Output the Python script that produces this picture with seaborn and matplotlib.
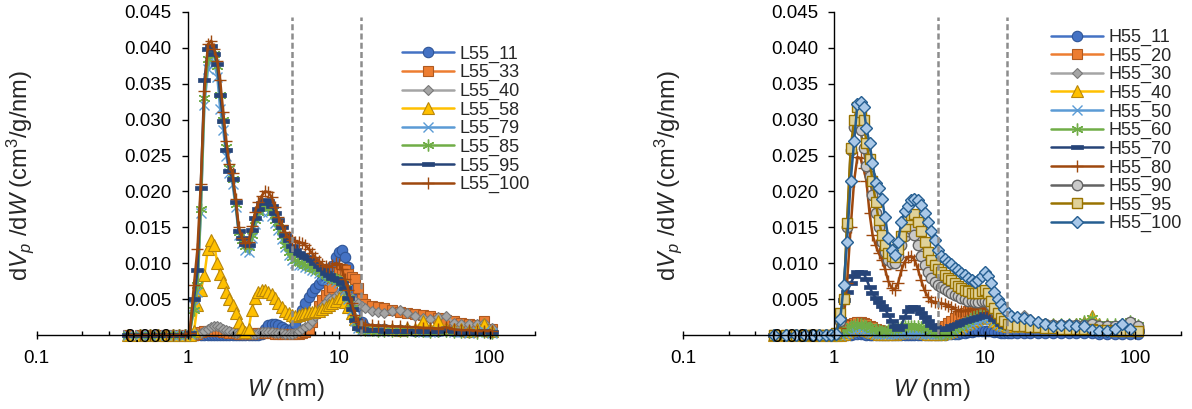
import numpy as np
import matplotlib
matplotlib.use("Agg")
import matplotlib.pyplot as plt
from matplotlib.ticker import FixedLocator, FuncFormatter, LogLocator, NullFormatter
import seaborn as sns

# ---------------- data ----------------
W = [0.40, 0.48, 0.56, 0.64, 0.72, 0.80, 0.88, 0.96,
     1.03, 1.10, 1.16, 1.22, 1.29, 1.36, 1.43, 1.50, 1.57, 1.64, 1.72, 1.80, 1.89, 1.98,
     2.08, 2.18, 2.29, 2.41, 2.53, 2.66, 2.80, 2.94, 3.09, 3.25, 3.42, 3.60, 3.79, 3.99, 4.20, 4.42, 4.65, 4.89,
     5.15, 5.42, 5.71, 6.01, 6.33, 6.66, 7.01, 7.38, 7.77, 8.18, 8.61, 9.06, 9.54,
     10.0, 10.5, 11.0, 11.6, 12.2, 12.8, 13.5, 14.2, 15.0,
     16.5, 18.2, 20.0, 22.5, 25.3, 28.5, 32.0, 36.0, 40.5, 45.5, 51.2, 57.6, 64.8, 72.9, 82.0, 92.2, 104.0]

L55_11 = [0, 0, 0, 0, 0, 0, 0, 0,
          0, 0, 0, 0, 0, 0, 0, 0, 0, 0, 0, 0, 0, 0,
          0, 0, 0, 0, 0, 0, 0, 0, 0.0002, 0.0008, 0.0014, 0.0016, 0.0016, 0.0014, 0.0011, 0.0008, 0.0007, 0.0009,
          0.0016, 0.0025, 0.0035, 0.0045, 0.0053, 0.0060, 0.0066, 0.0071, 0.0076, 0.0081, 0.0088, 0.0096, 0.0108,
          0.0116, 0.0119, 0.0108, 0.0095, 0.0081, 0.0064, 0.0040, 0.0018, 0.0011,
          0.0009, 0.0008, 0.0008, 0.0007, 0.0007, 0.0007, 0.0006, 0.0006, 0.0006, 0.0006, 0.0007, 0.0005, 0.0005, 0.0004, 0.0005, 0.0006, 0.0004]
L55_33 = [0, 0, 0, 0, 0, 0, 0, 0,
          0, 0, 0.0002, 0.0004, 0.0005, 0.0006, 0.0006, 0.0006, 0.0005, 0.0005, 0.0004, 0.0004, 0.0003, 0.0003,
          0.0003, 0.0002, 0.0002, 0.0002, 0.0002, 0.0002, 0.0003, 0.0003, 0.0003, 0.0003, 0.0003, 0.0003, 0.0002, 0.0002, 0.0002, 0.0002, 0.0002, 0.0002,
          0.0002, 0.0002, 0.0003, 0.0004, 0.0008, 0.0018, 0.0030, 0.0040, 0.0049, 0.0056, 0.0062, 0.0067, 0.0078,
          0.0088, 0.0092, 0.0090, 0.0085, 0.0081, 0.0078, 0.0065, 0.0050, 0.0043,
          0.0041, 0.0039, 0.0037, 0.0035, 0.0032, 0.0030, 0.0029, 0.0028, 0.0026, 0.0023, 0.0021, 0.0019, 0.0017, 0.0015, 0.0014, 0.0020, 0.0009]
L55_40 = [0, 0, 0, 0, 0, 0, 0, 0,
          0, 0.0001, 0.0002, 0.0003, 0.0006, 0.0009, 0.0011, 0.0012, 0.0012, 0.0011, 0.0009, 0.0007, 0.0005, 0.0004,
          0.0003, 0.0003, 0.0002, 0.0002, 0.0002, 0.0002, 0.0002, 0.0003, 0.0004, 0.0004, 0.0004, 0.0004, 0.0003, 0.0003, 0.0003, 0.0002, 0.0002, 0.0002,
          0.0003, 0.0005, 0.0008, 0.0011, 0.0014, 0.0020, 0.0027, 0.0034, 0.0040, 0.0046, 0.0051, 0.0050, 0.0054,
          0.0058, 0.0060, 0.0059, 0.0056, 0.0052, 0.0047, 0.0044, 0.0040, 0.0037,
          0.0034, 0.0032, 0.0031, 0.0033, 0.0035, 0.0030, 0.0026, 0.0023, 0.0022, 0.0025, 0.0027, 0.0017, 0.0016, 0.0015, 0.0015, 0.0017, 0.0010]
L55_58 = [0, 0, 0, 0, 0, 0, 0, 0,
          0, 0.0005, 0.0042, 0.0062, 0.0084, 0.0120, 0.0133, 0.0125, 0.0100, 0.0085, 0.0074, 0.0060, 0.0050, 0.0042,
          0.0030, 0.0018, 0.0010, 0.0004, 0.0008, 0.0035, 0.0052, 0.0060, 0.0062, 0.0062, 0.0060, 0.0057, 0.0051, 0.0045, 0.0039, 0.0034, 0.0030, 0.0028,
          0.0027, 0.0028, 0.0029, 0.0031, 0.0032, 0.0032, 0.0033, 0.0034, 0.0036, 0.0039, 0.0042, 0.0045, 0.0048,
          0.0051, 0.0052, 0.0046, 0.0039, 0.0030, 0.0022, 0.0015, 0.0012, 0.0010,
          0.0009, 0.0008, 0.0008, 0.0009, 0.0007, 0.0010, 0.0008, 0.0020, 0.0008, 0.0019, 0.0010, 0.0008, 0.0009, 0.0006, 0.0008, 0.0015, 0.0006]
L55_79 = [0, 0, 0, 0, 0, 0, 0, 0,
          0.0002, 0.0040, 0.0060, 0.0170, 0.0320, 0.0370, 0.0385, 0.0378, 0.0360, 0.0315, 0.0285, 0.0250, 0.0225, 0.0210,
          0.0178, 0.0140, 0.0128, 0.0118, 0.0116, 0.0135, 0.0155, 0.0166, 0.0172, 0.0175, 0.0172, 0.0166, 0.0156, 0.0146, 0.0134, 0.0122, 0.0112, 0.0104,
          0.0100, 0.0098, 0.0097, 0.0095, 0.0093, 0.0091, 0.0089, 0.0086, 0.0083, 0.0080, 0.0078, 0.0076, 0.0075,
          0.0073, 0.0070, 0.0062, 0.0050, 0.0035, 0.0020, 0.0010, 0.0007, 0.0006,
          0.0006, 0.0006, 0.0005, 0.0005, 0.0005, 0.0005, 0.0005, 0.0004, 0.0004, 0.0005, 0.0006, 0.0004, 0.0004, 0.0003, 0.0004, 0.0005, 0.0003]
L55_85 = [0, 0, 0, 0, 0, 0, 0, 0,
          0.0002, 0.0035, 0.0070, 0.0175, 0.0330, 0.0385, 0.0398, 0.0392, 0.0375, 0.0335, 0.0300, 0.0262, 0.0232, 0.0218,
          0.0182, 0.0143, 0.0132, 0.0124, 0.0122, 0.0140, 0.0160, 0.0171, 0.0178, 0.0181, 0.0178, 0.0171, 0.0160, 0.0150, 0.0138, 0.0126, 0.0116, 0.0108,
          0.0104, 0.0102, 0.0100, 0.0098, 0.0096, 0.0094, 0.0092, 0.0089, 0.0086, 0.0083, 0.0081, 0.0079, 0.0078,
          0.0077, 0.0073, 0.0065, 0.0052, 0.0037, 0.0022, 0.0011, 0.0008, 0.0007,
          0.0007, 0.0006, 0.0006, 0.0006, 0.0005, 0.0005, 0.0005, 0.0005, 0.0004, 0.0005, 0.0006, 0.0004, 0.0004, 0.0004, 0.0003, 0.0004, 0.0003]
L55_95 = [0, 0, 0, 0, 0, 0, 0, 0,
          0.0003, 0.0050, 0.0090, 0.0205, 0.0355, 0.0398, 0.0403, 0.0392, 0.0378, 0.0335, 0.0298, 0.0258, 0.0228, 0.0218,
          0.0185, 0.0145, 0.0135, 0.0127, 0.0126, 0.0146, 0.0163, 0.0175, 0.0184, 0.0188, 0.0186, 0.0180, 0.0170, 0.0160, 0.0150, 0.0140, 0.0132, 0.0124,
          0.0118, 0.0114, 0.0111, 0.0109, 0.0107, 0.0104, 0.0100, 0.0096, 0.0092, 0.0087, 0.0083, 0.0080, 0.0078,
          0.0076, 0.0072, 0.0065, 0.0052, 0.0036, 0.0021, 0.0010, 0.0008, 0.0007,
          0.0007, 0.0007, 0.0006, 0.0006, 0.0006, 0.0006, 0.0005, 0.0005, 0.0005, 0.0006, 0.0007, 0.0005, 0.0004, 0.0004, 0.0004, 0.0005, 0.0004]
L55_100 = [0, 0, 0, 0, 0, 0, 0, 0,
           0.0003, 0.0070, 0.0120, 0.0210, 0.0340, 0.0405, 0.0410, 0.0398, 0.0382, 0.0355, 0.0310, 0.0270, 0.0238, 0.0225,
           0.0190, 0.0150, 0.0135, 0.0128, 0.0130, 0.0152, 0.0172, 0.0185, 0.0194, 0.0200, 0.0199, 0.0192, 0.0178, 0.0165, 0.0153, 0.0143, 0.0136, 0.0132,
           0.0130, 0.0130, 0.0128, 0.0125, 0.0120, 0.0114, 0.0108, 0.0103, 0.0099, 0.0096, 0.0095, 0.0097, 0.0100,
           0.0099, 0.0092, 0.0078, 0.0062, 0.0045, 0.0028, 0.0018, 0.0016, 0.0014,
           0.0014, 0.0013, 0.0013, 0.0012, 0.0012, 0.0011, 0.0011, 0.0010, 0.0010, 0.0009, 0.0011, 0.0008, 0.0007, 0.0007, 0.0006, 0.0006, 0.0006]

H55_11 = [0, 0, 0, 0, 0, 0, 0, 0,
          0, 0, 0, 0, 0, 0.0001, 0.0001, 0.0001, 0.0001, 0, 0, 0, 0, 0,
          0, 0, 0, 0, 0, 0, 0, 0, 0, 0, 0, 0, 0, 0, 0, 0, 0, 0,
          0, 0, 0.0001, 0.0001, 0.0002, 0.0002, 0.0003, 0.0003, 0.0004, 0.0004, 0.0005, 0.0005, 0.0006,
          0.0006, 0.0006, 0.0005, 0.0004, 0.0004, 0.0003, 0.0003, 0.0003, 0.0003,
          0.0003, 0.0003, 0.0003, 0.0003, 0.0003, 0.0003, 0.0003, 0.0003, 0.0003, 0.0003, 0.0003, 0.0002, 0.0002, 0.0002, 0.0002, 0.0002, 0.0002]
H55_20 = [0, 0, 0, 0, 0, 0, 0, 0,
          0, 0.0003, 0.0008, 0.0012, 0.0015, 0.0017, 0.0018, 0.0018, 0.0017, 0.0015, 0.0013, 0.0011, 0.0009, 0.0007,
          0.0006, 0.0005, 0.0004, 0.0004, 0.0004, 0.0004, 0.0005, 0.0006, 0.0006, 0.0006, 0.0006, 0.0005, 0.0005, 0.0004, 0.0004, 0.0004, 0.0005, 0.0007,
          0.0010, 0.0013, 0.0017, 0.0020, 0.0023, 0.0026, 0.0029, 0.0031, 0.0033, 0.0035, 0.0037, 0.0039, 0.0040,
          0.0041, 0.0040, 0.0036, 0.0030, 0.0024, 0.0019, 0.0015, 0.0013, 0.0012,
          0.0012, 0.0011, 0.0011, 0.0011, 0.0010, 0.0010, 0.0010, 0.0009, 0.0009, 0.0009, 0.0009, 0.0008, 0.0008, 0.0008, 0.0008, 0.0008, 0.0007]
H55_30 = [0, 0, 0, 0, 0, 0, 0, 0,
          0, 0.0001, 0.0002, 0.0003, 0.0005, 0.0006, 0.0007, 0.0007, 0.0006, 0.0005, 0.0004, 0.0003, 0.0003, 0.0002,
          0.0002, 0.0002, 0.0002, 0.0002, 0.0002, 0.0002, 0.0002, 0.0002, 0.0002, 0.0002, 0.0002, 0.0002, 0.0002, 0.0002, 0.0002, 0.0002, 0.0002, 0.0002,
          0.0003, 0.0004, 0.0006, 0.0008, 0.0010, 0.0013, 0.0016, 0.0019, 0.0022, 0.0025, 0.0027, 0.0029, 0.0031,
          0.0032, 0.0031, 0.0028, 0.0024, 0.0020, 0.0017, 0.0015, 0.0014, 0.0014,
          0.0020, 0.0028, 0.0022, 0.0018, 0.0016, 0.0015, 0.0014, 0.0014, 0.0013, 0.0013, 0.0014, 0.0012, 0.0012, 0.0012, 0.0013, 0.0016, 0.0011]
H55_40 = [0, 0, 0, 0, 0, 0, 0, 0,
          0, 0, 0.0002, 0.0004, 0.0007, 0.0009, 0.0010, 0.0010, 0.0009, 0.0007, 0.0005, 0.0004, 0.0003, 0.0002,
          0.0002, 0.0002, 0.0002, 0.0002, 0.0002, 0.0003, 0.0004, 0.0005, 0.0006, 0.0006, 0.0006, 0.0005, 0.0004, 0.0003, 0.0002, 0.0002, 0.0002, 0.0002,
          0.0002, 0.0003, 0.0004, 0.0006, 0.0008, 0.0010, 0.0013, 0.0015, 0.0017, 0.0019, 0.0021, 0.0023, 0.0025,
          0.0028, 0.0027, 0.0024, 0.0020, 0.0017, 0.0015, 0.0014, 0.0013, 0.0013,
          0.0013, 0.0014, 0.0014, 0.0013, 0.0013, 0.0013, 0.0012, 0.0013, 0.0015, 0.0018, 0.0026, 0.0015, 0.0014, 0.0013, 0.0013, 0.0016, 0.0012]
H55_50 = [0, 0, 0, 0, 0, 0, 0, 0,
          0, 0, 0.0001, 0.0003, 0.0005, 0.0007, 0.0008, 0.0008, 0.0007, 0.0006, 0.0004, 0.0003, 0.0002, 0.0002,
          0.0002, 0.0002, 0.0002, 0.0002, 0.0002, 0.0002, 0.0003, 0.0003, 0.0003, 0.0003, 0.0003, 0.0003, 0.0002, 0.0002, 0.0002, 0.0002, 0.0002, 0.0002,
          0.0002, 0.0002, 0.0003, 0.0004, 0.0006, 0.0008, 0.0010, 0.0012, 0.0014, 0.0016, 0.0018, 0.0020, 0.0022,
          0.0024, 0.0023, 0.0021, 0.0018, 0.0015, 0.0013, 0.0012, 0.0012, 0.0011,
          0.0011, 0.0011, 0.0011, 0.0011, 0.0011, 0.0010, 0.0010, 0.0010, 0.0010, 0.0011, 0.0013, 0.0010, 0.0010, 0.0010, 0.0010, 0.0012, 0.0009]
H55_60 = [0, 0, 0, 0, 0, 0, 0, 0,
          0, 0.0002, 0.0005, 0.0009, 0.0012, 0.0014, 0.0015, 0.0015, 0.0014, 0.0013, 0.0011, 0.0009, 0.0008, 0.0007,
          0.0006, 0.0006, 0.0007, 0.0008, 0.0009, 0.0010, 0.0011, 0.0012, 0.0013, 0.0013, 0.0013, 0.0012, 0.0011, 0.0010, 0.0008, 0.0006, 0.0004, 0.0003,
          0.0002, 0.0002, 0.0003, 0.0005, 0.0008, 0.0011, 0.0014, 0.0017, 0.0020, 0.0023, 0.0026, 0.0029, 0.0031,
          0.0033, 0.0032, 0.0028, 0.0023, 0.0019, 0.0017, 0.0016, 0.0016, 0.0016,
          0.0016, 0.0016, 0.0016, 0.0016, 0.0015, 0.0015, 0.0016, 0.0015, 0.0016, 0.0019, 0.0024, 0.0016, 0.0015, 0.0015, 0.0016, 0.0019, 0.0014]
H55_70 = [0, 0, 0, 0, 0, 0, 0, 0,
          0.0002, 0.0022, 0.0049, 0.0060, 0.0072, 0.0082, 0.0088, 0.0088, 0.0086, 0.0078, 0.0067, 0.0058, 0.0052, 0.0046,
          0.0040, 0.0036, 0.0028, 0.0020, 0.0012, 0.0009, 0.0013, 0.0025, 0.0034, 0.0039, 0.0039, 0.0036, 0.0031, 0.0025, 0.0019, 0.0014, 0.0011, 0.0009,
          0.0009, 0.0009, 0.0010, 0.0012, 0.0014, 0.0016, 0.0018, 0.0020, 0.0021, 0.0022, 0.0023, 0.0025, 0.0027,
          0.0029, 0.0029, 0.0026, 0.0022, 0.0019, 0.0015, 0.0012, 0.0011, 0.0010,
          0.0010, 0.0010, 0.0009, 0.0009, 0.0009, 0.0009, 0.0008, 0.0008, 0.0008, 0.0008, 0.0008, 0.0007, 0.0007, 0.0007, 0.0007, 0.0007, 0.0006]
H55_80 = [0, 0, 0, 0, 0, 0, 0, 0,
          0.0002, 0.0010, 0.0021, 0.0073, 0.0150, 0.0215, 0.0248, 0.0246, 0.0232, 0.0215, 0.0170, 0.0140, 0.0125, 0.0114,
          0.0105, 0.0092, 0.0075, 0.0066, 0.0063, 0.0072, 0.0090, 0.0102, 0.0108, 0.0110, 0.0105, 0.0092, 0.0076, 0.0062, 0.0053, 0.0048, 0.0046, 0.0045,
          0.0044, 0.0043, 0.0041, 0.0039, 0.0036, 0.0034, 0.0033, 0.0034, 0.0035, 0.0036, 0.0037, 0.0038, 0.0039,
          0.0038, 0.0036, 0.0033, 0.0030, 0.0027, 0.0024, 0.0021, 0.0019, 0.0018,
          0.0017, 0.0016, 0.0016, 0.0015, 0.0015, 0.0014, 0.0014, 0.0013, 0.0013, 0.0013, 0.0014, 0.0012, 0.0012, 0.0011, 0.0011, 0.0012, 0.0010]
H55_90 = [0, 0, 0, 0, 0, 0, 0, 0,
          0.0002, 0.0020, 0.0050, 0.0150, 0.0258, 0.0290, 0.0295, 0.0285, 0.0260, 0.0235, 0.0222, 0.0195, 0.0170, 0.0150,
          0.0130, 0.0115, 0.0105, 0.0100, 0.0100, 0.0110, 0.0125, 0.0138, 0.0145, 0.0147, 0.0140, 0.0125, 0.0110, 0.0098, 0.0088, 0.0080, 0.0074, 0.0070,
          0.0067, 0.0064, 0.0061, 0.0058, 0.0056, 0.0054, 0.0052, 0.0050, 0.0048, 0.0047, 0.0046, 0.0046, 0.0047,
          0.0048, 0.0046, 0.0041, 0.0035, 0.0030, 0.0026, 0.0022, 0.0019, 0.0017,
          0.0016, 0.0016, 0.0015, 0.0015, 0.0015, 0.0014, 0.0014, 0.0014, 0.0014, 0.0014, 0.0015, 0.0013, 0.0013, 0.0013, 0.0014, 0.0018, 0.0012]
H55_95 = [0, 0, 0, 0, 0, 0, 0, 0,
          0.0003, 0.0030, 0.0050, 0.0156, 0.0260, 0.0300, 0.0318, 0.0310, 0.0300, 0.0268, 0.0245, 0.0215, 0.0185, 0.0160,
          0.0140, 0.0125, 0.0114, 0.0110, 0.0109, 0.0120, 0.0138, 0.0152, 0.0162, 0.0167, 0.0168, 0.0158, 0.0145, 0.0130, 0.0116, 0.0105, 0.0098, 0.0092,
          0.0088, 0.0084, 0.0080, 0.0076, 0.0072, 0.0068, 0.0065, 0.0063, 0.0061, 0.0059, 0.0058, 0.0059, 0.0061,
          0.0063, 0.0058, 0.0048, 0.0038, 0.0030, 0.0023, 0.0019, 0.0016, 0.0014,
          0.0013, 0.0012, 0.0011, 0.0011, 0.0010, 0.0010, 0.0009, 0.0009, 0.0008, 0.0008, 0.0009, 0.0007, 0.0007, 0.0006, 0.0006, 0.0006, 0.0005]
H55_100 = [0, 0, 0, 0, 0, 0, 0, 0,
           0.0002, 0.0022, 0.0070, 0.0130, 0.0215, 0.0270, 0.0322, 0.0325, 0.0318, 0.0288, 0.0268, 0.0240, 0.0212, 0.0205,
           0.0190, 0.0165, 0.0135, 0.0118, 0.0111, 0.0130, 0.0158, 0.0173, 0.0180, 0.0188, 0.0190, 0.0188, 0.0181, 0.0170, 0.0158, 0.0145, 0.0132, 0.0119,
           0.0110, 0.0106, 0.0102, 0.0099, 0.0094, 0.0090, 0.0087, 0.0083, 0.0079, 0.0076, 0.0074, 0.0076, 0.0082,
           0.0088, 0.0082, 0.0072, 0.0060, 0.0050, 0.0043, 0.0036, 0.0030, 0.0026,
           0.0025, 0.0023, 0.0021, 0.0018, 0.0015, 0.0012, 0.0014, 0.0014, 0.0012, 0.0012, 0.0007, 0.0006, 0.0005, 0.0009, 0.0015, 0.0009, np.nan]

left_names = ["L55_11", "L55_33", "L55_40", "L55_58", "L55_79", "L55_85", "L55_95", "L55_100"]
left_series = [L55_11, L55_33, L55_40, L55_58, L55_79, L55_85, L55_95, L55_100]
right_names = ["H55_11", "H55_20", "H55_30", "H55_40", "H55_50", "H55_60",
               "H55_70", "H55_80", "H55_90", "H55_95", "H55_100"]
right_series = [H55_11, H55_20, H55_30, H55_40, H55_50, H55_60,
                H55_70, H55_80, H55_90, H55_95, H55_100]
boundaries = [4.9, 14.0]
x_ticks = [0.1, 1, 10, 100]
y_ticks = [0.000, 0.005, 0.010, 0.015, 0.020, 0.025, 0.030, 0.035, 0.040, 0.045]

# ---------------- styles ----------------
dash_marker = [(-1, -0.28), (1, -0.28), (1, 0.28), (-1, 0.28), (-1, -0.28)]
asterisk = (6, 2, 0)
style_list = [
    dict(color="#4472C4", marker="o", ms=7.5, mfc="#4472C4", mec="#2F5597", mew=0.8),
    dict(color="#ED7D31", marker="s", ms=7.0, mfc="#ED7D31", mec="#AE5A21", mew=0.8),
    dict(color="#A5A5A5", marker="D", ms=5.5, mfc="#A5A5A5", mec="#787878", mew=0.8),
    dict(color="#FFC000", marker="^", ms=8.0, mfc="#FFC000", mec="#B8860B", mew=0.8),
    dict(color="#5B9BD5", marker="x", ms=7.0, mfc="#5B9BD5", mec="#5B9BD5", mew=1.0),
    dict(color="#70AD47", marker=asterisk, ms=8.5, mfc="#70AD47", mec="#70AD47", mew=1.0),
    dict(color="#264478", marker=dash_marker, ms=8.0, mfc="#264478", mec="#264478", mew=0.5),
    dict(color="#9E480E", marker="+", ms=9.0, mfc="#9E480E", mec="#9E480E", mew=1.0),
    dict(color="#636363", marker="o", ms=7.5, mfc="#C9C9C9", mec="#636363", mew=1.0),
    dict(color="#997300", marker="s", ms=7.5, mfc="#E0D29A", mec="#997300", mew=1.0),
    dict(color="#255E91", marker="D", ms=6.0, mfc="#A9C8E8", mec="#255E91", mew=1.0),
]
left_styles = style_list[:8]
right_styles = style_list[:11]

sns.set_style("ticks")
plt.rcParams.update({
    "font.family": ["Liberation Sans", "DejaVu Sans"],
    "mathtext.fontset": "custom",
    "mathtext.rm": "Liberation Sans",
    "mathtext.it": "Liberation Sans:italic",
    "mathtext.bf": "Liberation Sans:bold",
    "axes.edgecolor": "black",
    "xtick.color": "black",
    "ytick.color": "black",
})

fig = plt.figure(figsize=(11.92, 4.09), dpi=100)
axL = fig.add_axes([36.7 / 1192, 74 / 409, 498.5 / 1192, 323 / 409])
axR = fig.add_axes([683.3 / 1192, 74 / 409, 497.5 / 1192, 323 / 409])


def draw(ax, names, series, styles, legend_xy, ylabel_x):
    for name, vals, st in zip(names, series, styles):
        sns.lineplot(x=W, y=vals, ax=ax, label=name, color=st["color"], linewidth=1.8,
                     marker=st["marker"], markersize=st["ms"], markerfacecolor=st["mfc"],
                     markeredgecolor=st["mec"], markeredgewidth=st["mew"],
                     clip_on=False, sort=False, estimator=None, legend=True)
    for b in boundaries:
        ax.axvline(b, ymin=0, ymax=0.985, color="#8C8C8C", lw=1.8,
                   linestyle=(0, (2.4, 1.3)), zorder=5)
    ax.set_xscale("log")
    ax.set_xlim(0.1, 200)
    ax.set_ylim(0, 0.045)
    ax.spines["left"].set_position(("data", 1))
    ax.spines["top"].set_visible(False)
    ax.spines["right"].set_visible(False)
    for s in ("left", "bottom"):
        ax.spines[s].set_linewidth(1.0)
        ax.spines[s].set_color("black")
    ax.set_axisbelow(False)
    ax.xaxis.set_major_locator(FixedLocator(x_ticks))
    ax.xaxis.set_major_formatter(FuncFormatter(lambda v, p: f"{v:g}"))
    ax.xaxis.set_minor_locator(LogLocator(base=10, subs=range(2, 10)))
    ax.xaxis.set_minor_formatter(NullFormatter())
    ax.yaxis.set_major_locator(FixedLocator(y_ticks))
    ax.yaxis.set_major_formatter(FuncFormatter(lambda v, p: f"{v:.3f}"))
    ax.tick_params(axis="x", which="major", direction="inout", length=6, width=1,
                   labelsize=13.5, pad=8)
    ax.tick_params(axis="x", which="minor", direction="in", length=3, width=1)
    ax.tick_params(axis="y", which="major", direction="out", length=4.5, width=1,
                   labelsize=13.5, pad=7)
    ax.set_xlabel(r"$W$ (nm)", fontsize=17, va="center")
    ax.xaxis.set_label_coords(0.5, -0.17)
    ax.set_ylabel(r"d$V_p$ /d$W$ (cm$^3$/g/nm)", fontsize=17, va="center")
    ax.yaxis.set_label_coords(ylabel_x, 0.495)
    h, l = ax.get_legend_handles_labels()
    ax.legend(h, l, loc="upper left", bbox_to_anchor=legend_xy,
              bbox_transform=fig.transFigure, frameon=False, fontsize=13,
              handlelength=2.9, handletextpad=0.3, labelspacing=0.08,
              borderpad=0, borderaxespad=0, numpoints=1)


draw(axL, left_names, left_series, left_styles, (401.7 / 1192, 1 - 45.6 / 409), -0.0335)
draw(axR, right_names, right_series, right_styles, (1051 / 1192, 1 - 28.9 / 409), -0.031)

fig.savefig("out.png", dpi=100)
